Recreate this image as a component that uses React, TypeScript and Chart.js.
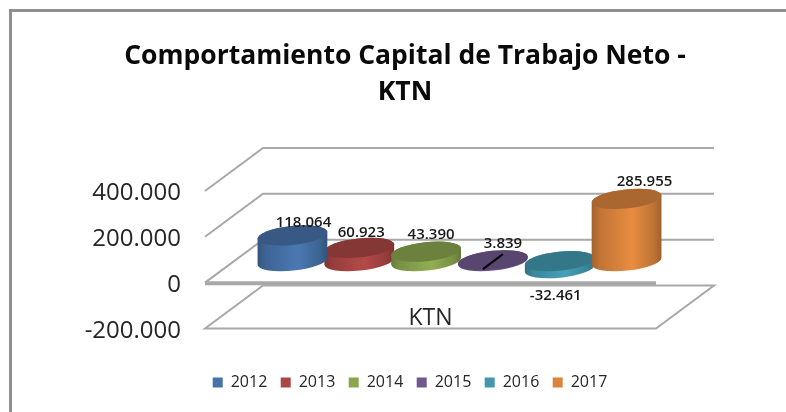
import React, { useEffect, useRef } from "react";
import { Chart, registerables } from "chart.js";

Chart.register(...registerables);

const titleLines = ["Comportamiento Capital de Trabajo Neto -", "KTN"];
const categories = ["KTN"];
const years = ["2012", "2013", "2014", "2015", "2016", "2017"];
const values = [118064, 60923, 43390, 3839, -32461, 285955];
const seriesColors = ["#4672a8", "#aa4644", "#89a54e", "#71588f", "#4298af", "#db843d"];
const axisTicks = [-200000, 0, 200000, 400000];

// Appearance of the pseudo-3D box and the marks
const FONT = '"Open Sans", sans-serif';
const DEPTH_X = 58;
const DEPTH_Y = -43;
const MID = 0.5;
const HEIGHT_FACTOR = 0.95;
const TILT = (6 * Math.PI) / 180;
const RY = 9.5;
const WALL = "#a8a8a8";
const paintOrder = [1, 0, 2, 3, 4, 5];
const labelShiftX = [11, 2, 5, 10, -4, 18];
const labelGapY = [13, 15, 17, 17, -35, 17];

const fmt = (v: number) => {
  const s = Math.abs(v).toString().replace(/\B(?=(\d{3})+(?!\d))/g, ".");
  return (v < 0 ? "-" : "") + s;
};

const shade = (hex: string, f: number) => {
  const n = parseInt(hex.slice(1), 16);
  const c = [(n >> 16) & 255, (n >> 8) & 255, n & 255].map((x) => Math.min(255, Math.round(x * f)));
  return `rgb(${c[0]},${c[1]},${c[2]})`;
};

const frame = {
  id: "frame",
  beforeDraw(chart: any) {
    const { ctx, width, height } = chart;
    ctx.save();
    ctx.strokeStyle = "#8f8f8f";
    ctx.lineWidth = 3;
    ctx.beginPath();
    ctx.moveTo(10.5, height);
    ctx.lineTo(10.5, 10.5);
    ctx.lineTo(width, 10.5);
    ctx.stroke();
    ctx.restore();
    chart.scales.y.getLabelItems().forEach((it: any) => {
      it.textOffset += 2.5;
    });
  },
  afterLayout(chart: any) {
    chart.legend.left += 5;
    chart.legend.right += 5;
    chart.legend.top -= 2;
    chart.legend.bottom -= 2;
  },
};

const walls = {
  id: "walls",
  beforeDatasetsDraw(chart: any) {
    const { ctx, chartArea, scales } = chart;
    const { left, right } = chartArea;
    const y = scales.y;
    ctx.save();
    ctx.strokeStyle = WALL;
    ctx.lineWidth = 2;
    ctx.lineJoin = "miter";
    axisTicks.forEach((t) => {
      const py = y.getPixelForValue(t);
      ctx.beginPath();
      ctx.moveTo(left, py);
      ctx.lineTo(left + DEPTH_X, py + DEPTH_Y);
      ctx.lineTo(right + DEPTH_X, py + DEPTH_Y);
      if (t === axisTicks[0]) {
        ctx.lineTo(right, py);
        ctx.closePath();
      }
      ctx.stroke();
    });
    const zero = y.getPixelForValue(0);
    ctx.lineWidth = 4;
    ctx.beginPath();
    ctx.moveTo(left, zero + 0.7);
    ctx.lineTo(right, zero + 0.7);
    ctx.stroke();
    ctx.restore();
  },
};

const cylinders = {
  id: "cylinders",
  beforeDatasetDraw() {
    return false;
  },
  afterDatasetsDraw(chart: any) {
    const { ctx } = chart;
    const ox = DEPTH_X * MID;
    const oy = DEPTH_Y * MID;
    paintOrder.forEach((i) => {
      const el = chart.getDatasetMeta(i).data[0];
      const col = seriesColors[i];
      const cx = el.x + ox;
      const zeroY = el.base + oy;
      const valueY = zeroY + (el.y - el.base) * HEIGHT_FACTOR;
      const topY = Math.min(zeroY, valueY);
      const botY = Math.max(zeroY, valueY);
      const rx = el.width / 2;
      const g = ctx.createLinearGradient(cx - rx, 0, cx + rx, 0);
      g.addColorStop(0, shade(col, 0.74));
      g.addColorStop(0.12, shade(col, 0.88));
      g.addColorStop(0.58, shade(col, 1.06));
      g.addColorStop(0.9, shade(col, 0.86));
      g.addColorStop(1, shade(col, 0.72));
      ctx.save();
      ctx.beginPath();
      ctx.ellipse(cx, botY, rx, RY, -TILT, 0, Math.PI);
      ctx.ellipse(cx, topY, rx, RY, -TILT, Math.PI, Math.PI * 2);
      ctx.closePath();
      ctx.fillStyle = g;
      ctx.fill();
      ctx.beginPath();
      ctx.ellipse(cx, topY, rx, RY, -TILT, 0, Math.PI * 2);
      ctx.fillStyle = shade(col, 0.78);
      ctx.fill();
      ctx.restore();
    });
    ctx.save();
    ctx.fillStyle = "#1a1a1a";
    ctx.font = `600 15px ${FONT}`;
    ctx.textAlign = "center";
    ctx.textBaseline = "middle";
    values.forEach((v, i) => {
      const el = chart.getDatasetMeta(i).data[0];
      const zeroY = el.base + oy;
      const valueY = zeroY + (el.y - el.base) * HEIGHT_FACTOR;
      ctx.fillText(fmt(v), el.x + ox + labelShiftX[i], Math.min(zeroY, valueY) - labelGapY[i]);
    });
    // leader line of the smallest bar's label
    const small = chart.getDatasetMeta(3).data[0];
    ctx.strokeStyle = "#000";
    ctx.lineWidth = 2;
    ctx.beginPath();
    ctx.moveTo(small.x + ox - 10, small.base + oy + 8);
    ctx.lineTo(small.x + ox + 10, small.base + oy - 7);
    ctx.stroke();
    ctx.restore();
  },
};

export default function App() {
  const ref = useRef<HTMLCanvasElement>(null);
  useEffect(() => {
    const chart = new Chart(ref.current!, {
      type: "bar",
      data: {
        labels: categories,
        datasets: years.map((y, i) => ({
          label: y,
          data: [values[i]],
          backgroundColor: seriesColors[i],
          borderWidth: 0,
          categoryPercentage: 0.889,
          barPercentage: 1.05,
        })),
      },
      options: {
        responsive: false,
        animation: false,
        layout: { padding: { left: 64, right: 40, top: 0, bottom: 9.6 } },
        scales: {
          x: {
            grid: { display: false, drawTicks: false },
            border: { display: false },
            ticks: { mirror: true, color: "#262626", font: { family: FONT, size: 23 }, padding: -4 },
            afterFit(s: any) {
              s.height = 34.5;
            },
          },
          y: {
            min: axisTicks[0],
            max: axisTicks[axisTicks.length - 1],
            grid: { display: false, drawTicks: false },
            border: { display: false },
            ticks: {
              stepSize: 200000,
              color: "#262626",
              font: { family: FONT, size: 24 },
              padding: 24,
              callback: (v: any) => fmt(Number(v)),
            },
            afterFit(s: any) {
              s.width = 141;
            },
          },
          rightGutter: {
            position: "right",
            grid: { display: false, drawTicks: false },
            border: { display: false },
            ticks: { display: false },
            afterFit(s: any) {
              s.width = 90;
            },
          },
        },
        plugins: {
          title: {
            display: true,
            text: titleLines,
            color: "#0a0a0a",
            font: { family: FONT, size: 26.5, weight: "bold", lineHeight: 1.358 },
            padding: { top: 38, bottom: 81 },
          },
          legend: {
            position: "bottom",
            labels: {
              boxWidth: 10,
              boxHeight: 10,
              padding: 13.4,
              color: "#262626",
              font: { family: FONT, size: 16 },
            },
          },
          tooltip: { enabled: false },
        },
      },
      plugins: [frame, walls, cylinders],
    } as any);
    return () => chart.destroy();
  }, []);
  return (
    <div style={{ position: "absolute", left: 0, top: 0, width: 786, height: 412, background: "#fff" }}>
      <canvas ref={ref} width={786} height={412} style={{ display: "block" }} />
    </div>
  );
}
